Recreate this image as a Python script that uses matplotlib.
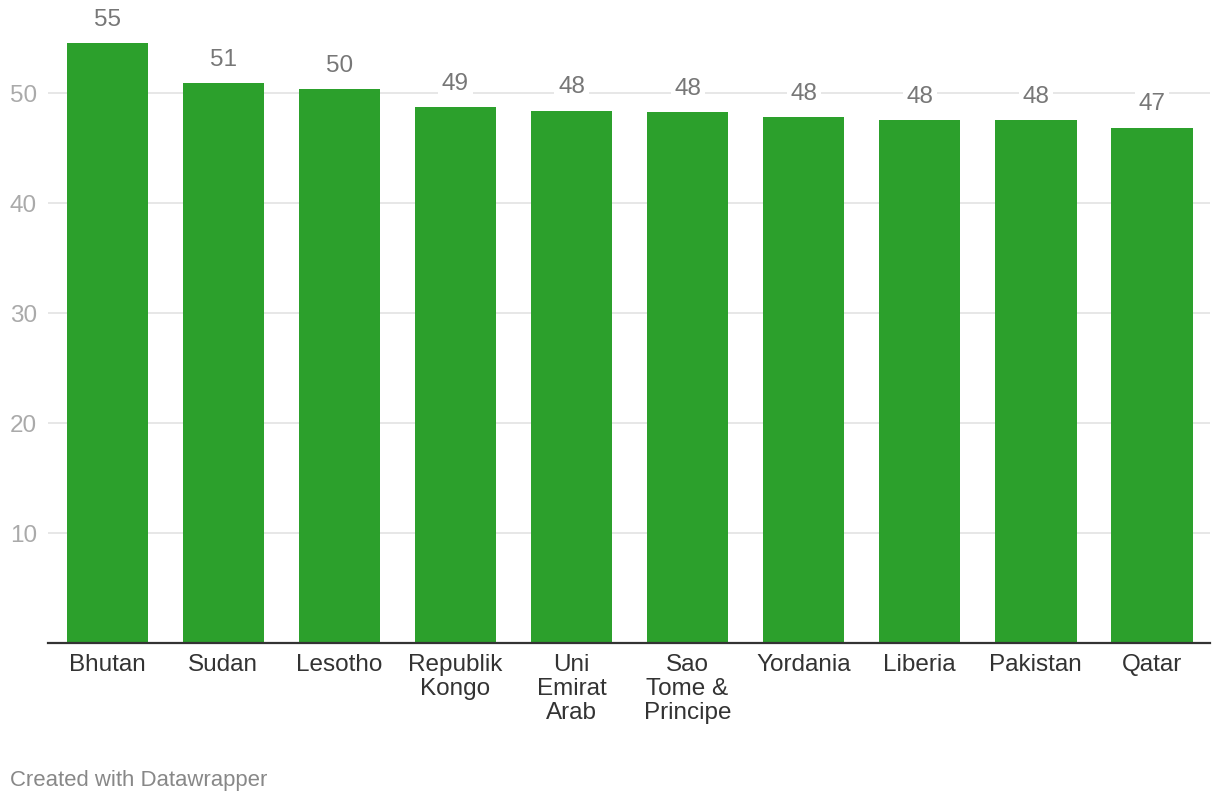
import matplotlib
matplotlib.use("Agg")
import matplotlib.pyplot as plt

countries = ["Bhutan", "Sudan", "Lesotho", "Republik\nKongo", "Uni\nEmirat\nArab",
             "Sao\nTome &\nPrincipe", "Yordania", "Liberia", "Pakistan", "Qatar"]
values = [54.55, 50.9, 50.35, 48.7, 48.4, 48.25, 47.8, 47.55, 47.55, 46.85]
yticks = [10, 20, 30, 40, 50]

plt.rcParams['font.family'] = ['Liberation Sans', 'DejaVu Sans']

fig = plt.figure(figsize=(12.2, 8.04), dpi=100)
ax = fig.add_axes([48/1220, 1 - 644/804, (1210-48)/1220, (644-28)/804])

x = list(range(len(countries)))
bars = ax.bar(x, values, width=0.70, color="#2ca02c", zorder=2)

ax.set_xlim(-0.51, 9.5)
ax.set_ylim(0, 56)
ax.set_yticks(yticks)
ax.set_yticklabels([str(t) for t in yticks])
ax.grid(axis='y', color='#e5e5e5', linewidth=1.3, zorder=0)
ax.set_axisbelow(True)

for s in ['top', 'right', 'left']:
    ax.spines[s].set_visible(False)
ax.spines['bottom'].set_color('#333333')
ax.spines['bottom'].set_linewidth(1.6)
ax.spines['bottom'].set_zorder(3)

ax.tick_params(axis='y', length=0, pad=8, labelsize=17.5, labelcolor='#aaaaaa')
ax.tick_params(axis='x', length=0, pad=7.5, labelsize=17.5, labelcolor='#333333')
ax.set_xticks(x)
ax.set_xticklabels(countries, linespacing=1.12, va='top')

for xi, v in zip(x, values):
    ax.annotate(f"{int(v + 0.5):d}", (xi, v), xytext=(0, 17.5), textcoords='offset points',
                ha='center', va='center', fontsize=17.5, color='#777777', zorder=4,
                bbox=dict(boxstyle='square,pad=0.15', fc='white', ec='none'))

fig.text(10/1220, 1 - 781/804, "Created with Datawrapper", fontsize=15.9,
         color='#888888', ha='left', va='center')

fig.savefig("out.png", dpi=100, facecolor='white')
